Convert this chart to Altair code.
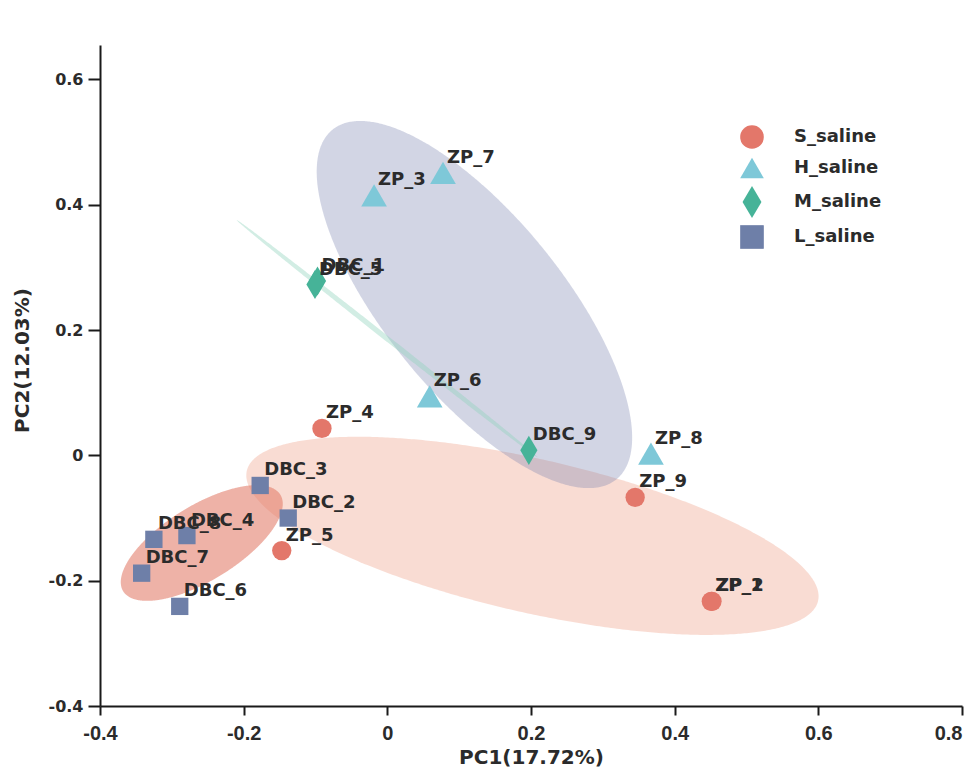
import altair as alt
import numpy as np
import pandas as pd

# ---------------- data ----------------
groups = ["S_saline", "H_saline", "M_saline", "L_saline"]
point_colors = ["#E3776A", "#7EC8D8", "#46B398", "#6E7FA8"]
point_shapes = ["circle", "triangle-up", "M0,-1.35L0.8,0L0,1.35L-0.8,0Z", "square"]
point_sizes = {"S_saline": 373, "H_saline": 660, "M_saline": 462, "L_saline": 300}

ellipse_fill = {"S_saline": "#EE9A80", "L_saline": "#E27F6C",
                "H_saline": "#7F86B2", "M_saline": "#8ED3BC"}
ellipse_opacity = {"S_saline": 0.35, "L_saline": 0.6,
                   "H_saline": 0.35, "M_saline": 0.4}
ellipse_order = ["S_saline", "L_saline", "H_saline", "M_saline"]

sample = ["ZP_4", "ZP_5", "ZP_9", "ZP_1", "ZP_2",
          "ZP_7", "ZP_3", "ZP_6", "ZP_8",
          "DBC_1", "DBC_5", "DBC_9",
          "DBC_3", "DBC_2", "DBC_8", "DBC_4", "DBC_7", "DBC_6"]
group = ["S_saline"] * 5 + ["H_saline"] * 4 + ["M_saline"] * 3 + ["L_saline"] * 6
pc1 = [-0.091, -0.147, 0.345, 0.451, 0.452,
       0.0775, -0.0185, 0.059, 0.367,
       -0.0972, -0.1007, 0.197,
       -0.177, -0.138, -0.325, -0.279, -0.342, -0.289]
pc2 = [0.043, -0.152, -0.067, -0.233, -0.233,
       0.451, 0.415, 0.094, 0.003,
       0.2783, 0.2727, 0.008,
       -0.048, -0.100, -0.134, -0.128, -0.188, -0.241]

x_ticks = [-0.4, -0.2, 0, 0.2, 0.4, 0.6, 0.8]
y_ticks = [-0.4, -0.2, 0, 0.2, 0.4, 0.6]
x_title = "PC1(17.72%)"
y_title = "PC2(12.03%)"
ELLIPSE_K = 1.5

pts = pd.DataFrame({"sample": sample, "group": group, "PC1": pc1, "PC2": pc2})
pts["psize"] = pts["group"].map(point_sizes)


# ---------------- group ellipses (from each group's covariance) ----------------
def ellipse_band(xs, ys, k=ELLIPSE_K, n=300):
    X = np.asarray(xs, float)
    Y = np.asarray(ys, float)
    mx, my = X.mean(), Y.mean()
    cov = np.cov(X, Y, bias=True)
    inv = np.linalg.inv(cov)
    A, B, C = inv[0, 0], inv[0, 1], inv[1, 1]
    half = k * np.sqrt(cov[0, 0])
    t = np.linspace(0, np.pi, n)
    u = -half * np.cos(t)
    disc = np.clip(B * B * u * u - C * (A * u * u - k * k), 0, None)
    v1 = (-B * u + np.sqrt(disc)) / C
    v2 = (-B * u - np.sqrt(disc)) / C
    return mx + u, my + np.maximum(v1, v2), my + np.minimum(v1, v2)


rows = []
for g in groups:
    sub = pts[pts.group == g]
    ex, ehi, elo = ellipse_band(sub.PC1, sub.PC2)
    for a, b, c in zip(ex, ehi, elo):
        rows.append({"group": g, "ex": float(a), "ehi": float(b), "elo": float(c)})
ell = pd.DataFrame(rows)

xscale = alt.Scale(domain=[-0.4, 0.8], nice=False, zero=False)
yscale = alt.Scale(domain=[-0.4, 0.655], nice=False, zero=False)

lab_expr = ("datum.value == 0 ? '0' : (datum.value < 0 ? '-' + format(-datum.value, '.1f')"
            " : format(datum.value, '.1f'))")

x_axis = alt.Axis(values=x_ticks, labelExpr=lab_expr, title=x_title, grid=False,
                  domainColor="#1a1a1a", domainWidth=2, tickColor="#1a1a1a",
                  tickWidth=2, tickSize=9, labelPadding=8,
                  labelAlign=alt.condition("datum.value > 0.79", alt.value("right"),
                                           alt.value("center")),
                  labelFont="Liberation Sans", labelFontSize=20, labelFontWeight="bold",
                  labelColor="#2b2b2b", titleFont="DejaVu Sans", titleFontSize=20,
                  titleFontWeight="bold", titleColor="#2b2b2b", titleY=51,
                  titleBaseline="middle", labelFlush=False, labelOverlap=False)
y_axis = alt.Axis(values=y_ticks, labelExpr=lab_expr, title=y_title, grid=False,
                  domainColor="#1a1a1a", domainWidth=2, tickColor="#1a1a1a",
                  tickWidth=2, tickSize=12, labelPadding=5,
                  labelFont="DejaVu Sans", labelFontSize=16, labelFontWeight="bold",
                  labelColor="#2b2b2b", titleFont="DejaVu Sans", titleFontSize=20,
                  titleFontWeight="bold", titleColor="#2b2b2b", titleX=-78, titleY=315,
                  titleBaseline="middle", titleAngle=-90, titleAlign="center",
                  labelFlush=False, labelOverlap=False)

layers = []
for g in ellipse_order:
    layers.append(
        alt.Chart(ell[ell.group == g])
        .mark_area(color=ellipse_fill[g], opacity=ellipse_opacity[g])
        .encode(
            x=alt.X("ex:Q", scale=xscale, axis=x_axis),
            y=alt.Y("ehi:Q", scale=yscale, axis=y_axis),
            y2=alt.Y2("elo:Q"),
        )
    )

legend = alt.Legend(orient="none", legendX=640, legendY=80, title=None,
                    symbolSize=560, labelFont="DejaVu Sans", labelFontSize=18,
                    labelFontWeight="bold", labelColor="#2b2b2b", rowPadding=7,
                    labelOffset=30, padding=0, symbolStrokeWidth=0, symbolOpacity=1)

points = alt.Chart(pts).mark_point(filled=True, opacity=1, strokeWidth=0).encode(
    x=alt.X("PC1:Q", scale=xscale, axis=x_axis),
    y=alt.Y("PC2:Q", scale=yscale, axis=y_axis),
    color=alt.Color("group:N", scale=alt.Scale(domain=groups, range=point_colors),
                    legend=legend),
    shape=alt.Shape("group:N", scale=alt.Scale(domain=groups, range=point_shapes),
                    legend=legend),
    size=alt.Size("psize:Q", scale=None, legend=None),
)

labels = alt.Chart(pts).mark_text(align="left", baseline="middle", dx=4, dy=-15,
                                  font="DejaVu Sans", fontSize=18, fontWeight="bold",
                                  color="#2b2b2b").encode(
    x=alt.X("PC1:Q", scale=xscale, axis=x_axis),
    y=alt.Y("PC2:Q", scale=yscale, axis=y_axis),
    text="sample:N",
)

chart = alt.layer(*layers, points, labels).properties(
    width=862, height=661,
    autosize=alt.AutoSizeParams(type="none"),
    padding={"left": 92, "top": 37, "right": 4, "bottom": 62},
    background="white",
).configure_view(stroke=None)

chart.save("out.html", embed_options={"renderer": "svg", "actions": False})
